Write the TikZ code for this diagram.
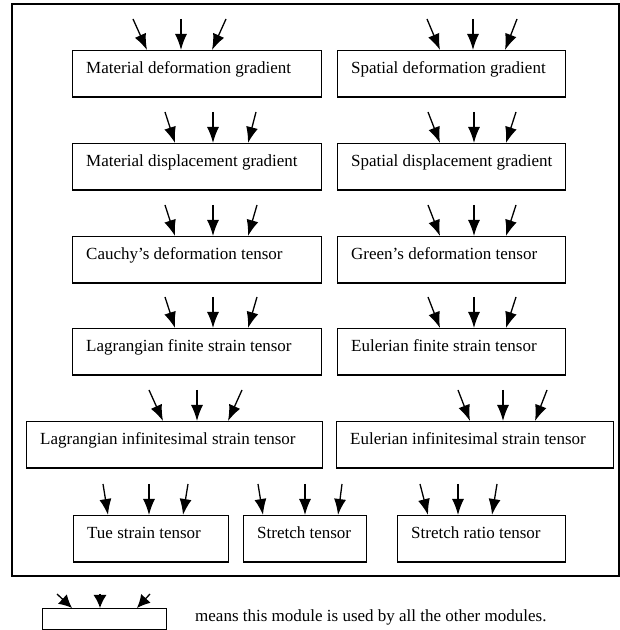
\documentclass[tikz,border=0pt]{standalone}
\usepackage{fontspec}
\setmainfont{Liberation Serif}
\usetikzlibrary{arrows.meta}

\tikzset{
  modbox/.style={draw, line width=1.1pt, anchor=north west, inner sep=0pt, minimum height=46.5pt},
  modtext/.style={anchor=base west, inner sep=0pt, font=\fontsize{17}{20}\selectfont},
  usedby/.style={-{Latex[length=16pt,width=12pt]}, line width=1.3pt},
}

% box with its name set at the upper left
\newcommand{\module}[5]{%
  \node[modbox, minimum width=#4] (#1) at (#2,#3) {};
  \node[modtext] (#1-txt) at ([shift={(14,-24)}]#1.north west) {#5};
}
% three arrows into a box: top/tip offsets from its left edge
\newcommand{\usedarrows}[3][31]{%
  \foreach \tp/\tq in {#3}
    \draw[usedby] ([shift={(\tp,#1)}]#2.north west) -- ([xshift=\tq]#2.north west);
}

\begin{document}
\begin{tikzpicture}[x=1pt, y=1pt]
    \useasboundingbox (0,0) rectangle (620,630);
    % Outer frame
    \draw[line width=1.3pt] (12,626) rectangle (619,54);
    % Deformation gradients
    \module{mdefg}{72}{580}{249pt}{Material deformation gradient}
    \module{sdefg}{337}{580}{228pt}{Spatial deformation gradient}
    \usedarrows{mdefg}{61/75, 109/109, 154/140}
    \usedarrows{sdefg}{90/103, 136/136, 180/168}
    % Displacement gradients
    \module{mdisg}{72}{487}{249pt}{Material displacement gradient}
    \module{sdisg}{337}{487}{228pt}{Spatial displacement gradient}
    \usedarrows{mdisg}{93/103, 141/141, 184/176}
    \usedarrows{sdisg}{91/103, 137/137, 179/169}
    % Deformation tensors
    \module{cauchy}{72}{394}{249pt}{Cauchy's deformation tensor}
    \module{green}{337}{394}{228pt}{Green's deformation tensor}
    \usedarrows{cauchy}{93/103, 141/141, 185/176}
    \usedarrows{green}{91/103, 137/137, 179/169}
    % Finite strain tensors
    \module{lagfin}{72}{302}{249pt}{Lagrangian finite strain tensor}
    \module{eulfin}{337}{302}{228pt}{Eulerian finite strain tensor}
    \usedarrows{lagfin}{93/103, 141/141, 185/176}
    \usedarrows{eulfin}{91/103, 137/137, 179/169}
    % Infinitesimal strain tensors
    \module{laginf}{26}{209}{296pt}{Lagrangian infinitesimal strain tensor}
    \module{eulinf}{336}{209}{277pt}{Eulerian infinitesimal strain tensor}
    \usedarrows{laginf}{123/137, 171/171, 216/202}
    \usedarrows{eulinf}{122/134, 167/167, 211/199}
    % Bottom row
    \module{tue}{73}{115}{155pt}{Tue strain tensor}
    \module{stretch}{243}{115}{123pt}{Stretch tensor}
    \module{ratio}{397}{115}{168pt}{Stretch ratio tensor}
    \usedarrows{tue}{30/35, 76/76, 115/110}
    \usedarrows{stretch}{15/20, 62/62, 99/95}
    \usedarrows{ratio}{23/31, 61/61, 100/95}
    % Legend
    \node[modbox, minimum width=124pt, minimum height=21pt] (legend) at (42,22) {};
    \begin{scope}[usedby/.append style={-{Latex[length=13pt,width=13pt]}}]
      \usedarrows[14]{legend}{15/30, 58/58, 108/95}
    \end{scope}
    \node[modtext] (legend-txt) at (195,9) {means this module is used by all the other modules.};
\end{tikzpicture}
\end{document}
